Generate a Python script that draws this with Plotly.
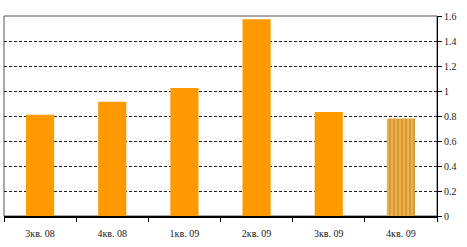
import plotly.graph_objects as go

categories = ["3кв. 08", "4кв. 08", "1кв. 09", "2кв. 09", "3кв. 09", "4кв. 09"]
values = [0.81, 0.915, 1.025, 1.575, 0.833, 0.78]
y_ticks = [0, 0.2, 0.4, 0.6, 0.8, 1, 1.2, 1.4, 1.6]
y_tick_labels = ["0", "0.2", "0.4", "0.6", "0.8", "1", "1.2", "1.4", "1.6"]

colors = ["#FF9900"] * 5 + ["#F2B040"]
patterns = [""] * 5 + ["|"]

fig = go.Figure()
fig.add_trace(go.Bar(
    x=categories, y=values, width=0.39,
    marker=dict(color=colors, line=dict(width=0),
                pattern=dict(shape=patterns, fgcolor="#E9A431", bgcolor="#F4B548",
                             size=4, solidity=0.2)),
))

fig.update_layout(
    width=467, height=247,
    margin=dict(l=4, r=30, t=16, b=31),
    paper_bgcolor="white", plot_bgcolor="white",
    showlegend=False,
    font=dict(family="Liberation Serif", size=10, color="#222"),
    shapes=[dict(type="rect", xref="paper", yref="paper", x0=0, x1=1, y0=0, y1=1,
                 line=dict(color="#555", width=1), layer="below")],
    xaxis=dict(
        type="category", showline=True, linecolor="black", linewidth=2,
        ticks="outside", tickson="boundaries", ticklen=4, tickcolor="black",
        showgrid=False, tickfont=dict(size=10), range=[-0.5, 5.5],
        ticklabelstandoff=7,
    ),
    yaxis=dict(
        side="right", range=[0, 1.6], tickvals=y_ticks, ticktext=y_tick_labels,
        showline=True, linecolor="black", linewidth=1,
        ticks="outside", ticklen=4, tickcolor="black",
        showgrid=True, gridcolor="#222", griddash="3px,2px", gridwidth=1,
        zeroline=False, tickfont=dict(size=10),
    ),
)

fig.write_html("out.html")
